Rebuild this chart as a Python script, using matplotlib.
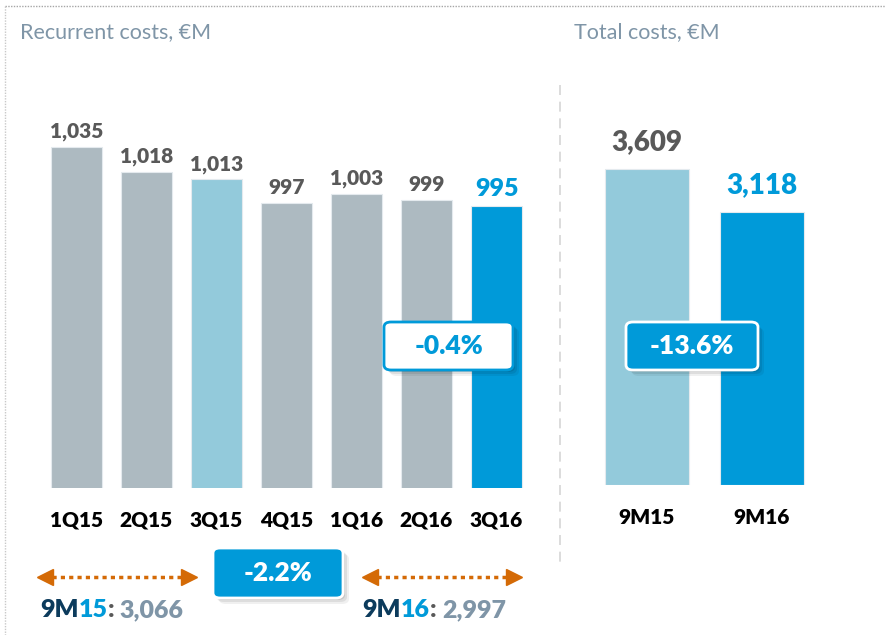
import matplotlib.pyplot as plt
from matplotlib.patches import FancyBboxPatch

plt.rcParams['font.family'] = ['Lato', 'DejaVu Sans']

# Recurrent costs per quarter, EUR M
quarters = ["1Q15", "2Q15", "3Q15", "4Q15", "1Q16", "2Q16", "3Q16"]
recurrent = [1035, 1018, 1013, 997, 1003, 999, 995]

# Total costs, nine months
periods = ["9M15", "9M16"]
totals = [3609, 3118]

change_q = "-0.4%"
change_total = "-13.6%"
change_9m = "-2.2%"
sum_9m15 = "3,066"
sum_9m16 = "2,997"

GREY = "#adbac1"
LIGHT = "#93cadb"
BLUE = "#009ad9"
DARK = "#595959"
NAVY = "#0c3b5c"
SLATE = "#7f95a7"
ORANGE = "#d46a06"
BOLD = "heavy"

W, H = 885, 635
fig = plt.figure(figsize=(W / 100, H / 100), dpi=100)


def fx(x):
    return x / W


def fy(y):
    return 1 - y / H


def pix_axes(x0, y0, x1, y1):
    return fig.add_axes([fx(x0), fy(y1), (x1 - x0) / W, (y1 - y0) / H])


# quarterly bars (truncated axis)
ax1 = pix_axes(41.5, 100, 531.5, 488)
bar_cols = [GREY, GREY, LIGHT, GREY, GREY, GREY, BLUE]
xs = range(len(quarters))
ax1.bar(xs, recurrent, width=0.73, color=bar_cols, edgecolor="#e4eaee", linewidth=0.8)
ax1.set_xlim(-0.5, 6.5)
ax1.set_ylim(803, 803 + 388 / 1.47)
for i, v in enumerate(recurrent):
    last = i == len(recurrent) - 1
    ax1.annotate(f"{v:,}", (i, v), xytext=(0, 4), textcoords="offset points",
                 ha="center", va="bottom", fontweight=BOLD,
                 fontsize=18 if last else 15, color=BLUE if last else DARK)
ax1.axis("off")
for i, q in enumerate(quarters):
    fig.text(fx(76.5 + 70 * i), fy(520), q, ha="center", va="center",
             fontsize=15, fontweight=BOLD, color="black")

# nine-month totals
ax2 = pix_axes(589.5, 100, 819.5, 485)
ax2.bar(range(2), totals, width=0.73, color=[LIGHT, BLUE], edgecolor="#e4eaee", linewidth=0.8)
ax2.set_xlim(-0.5, 1.5)
ax2.set_ylim(0, 385 / 0.0876)
for i, v in enumerate(totals):
    ax2.annotate(f"{v:,}", (i, v), xytext=(0, 10), textcoords="offset points",
                 ha="center", va="bottom", fontweight=BOLD, fontsize=20,
                 color=BLUE if i == 1 else DARK)
ax2.axis("off")
for i, p in enumerate(periods):
    fig.text(fx(647 + 115 * i), fy(518), p, ha="center", va="center",
             fontsize=15, fontweight=BOLD, color="black")

# titles
fig.text(fx(20), fy(32), "Recurrent costs, €M", ha="left", va="center", fontsize=15.5, color=SLATE)
fig.text(fx(574), fy(32), "Total costs, €M", ha="left", va="center", fontsize=15.5, color=SLATE)

# frame lines and separator
fig.add_artist(plt.Line2D([fx(5), 1], [fy(6), fy(6)], color="#a6a6a6", lw=1, ls=(0, (1, 1))))
fig.add_artist(plt.Line2D([fx(5), fx(5)], [fy(6), 0], color="#c8c8c8", lw=1, ls=(0, (1, 1))))
fig.add_artist(plt.Line2D([fx(560), fx(560)], [fy(85), fy(565)], color="#d6d6d6", lw=1.2, ls=(0, (6, 4))))


def badge(x0, y0, x1, y1, text, face, edge, tcolor):
    for k, a in [(6, 0.06), (4, 0.08), (2, 0.1)]:
        shadow = FancyBboxPatch((fx(x0 + k), fy(y1 + k)), fx(x1 - x0), (y1 - y0) / H,
                                boxstyle="round,pad=0,rounding_size=0.008",
                                transform=fig.transFigure, facecolor="#000000", alpha=a,
                                edgecolor="none")
        fig.add_artist(shadow)
    box = FancyBboxPatch((fx(x0), fy(y1)), fx(x1 - x0), (y1 - y0) / H,
                         boxstyle="round,pad=0,rounding_size=0.008",
                         transform=fig.transFigure, facecolor=face, edgecolor=edge, linewidth=2)
    fig.add_artist(box)
    fig.text(fx((x0 + x1) / 2), fy((y0 + y1) / 2), text, ha="center", va="center",
             fontsize=19, fontweight=BOLD, color=tcolor)


badge(384, 322, 513, 370, change_q, "white", BLUE, BLUE)
badge(626, 322, 758, 370, change_total, BLUE, "white", "white")
badge(213, 548, 343, 598, change_9m, BLUE, "white", "white")

# dotted double arrows over each nine-month block
for x0, x1 in [(40, 194), (365, 519)]:
    fig.add_artist(plt.Line2D([fx(x0 + 12), fx(x1 - 12)], [fy(577), fy(577)],
                              color=ORANGE, lw=2.5, ls=(0, (1.2, 1.2))))
    fig.add_artist(plt.Line2D([fx(x0 + 5)], [fy(577)], marker="<", markersize=11,
                              color=ORANGE, lw=0))
    fig.add_artist(plt.Line2D([fx(x1 - 5)], [fy(577)], marker=">", markersize=11,
                              color=ORANGE, lw=0))

# nine-month sums, multi-coloured pieces
fig.canvas.draw()
renderer = fig.canvas.get_renderer()


def pieces(x, y, parts):
    for txt, col in parts:
        t = fig.text(fx(x), fy(y), txt, ha="left", va="center", fontsize=18,
                     fontweight=BOLD, color=col)
        bb = t.get_window_extent(renderer)
        x += bb.width


pieces(40, 610, [("9M", NAVY), ("15", BLUE), (": ", DARK), (sum_9m15, SLATE)])
pieces(362, 610, [("9M", NAVY), ("16", BLUE), (": ", DARK), (sum_9m16, SLATE)])

fig.savefig("out.png", dpi=100, facecolor="white")
